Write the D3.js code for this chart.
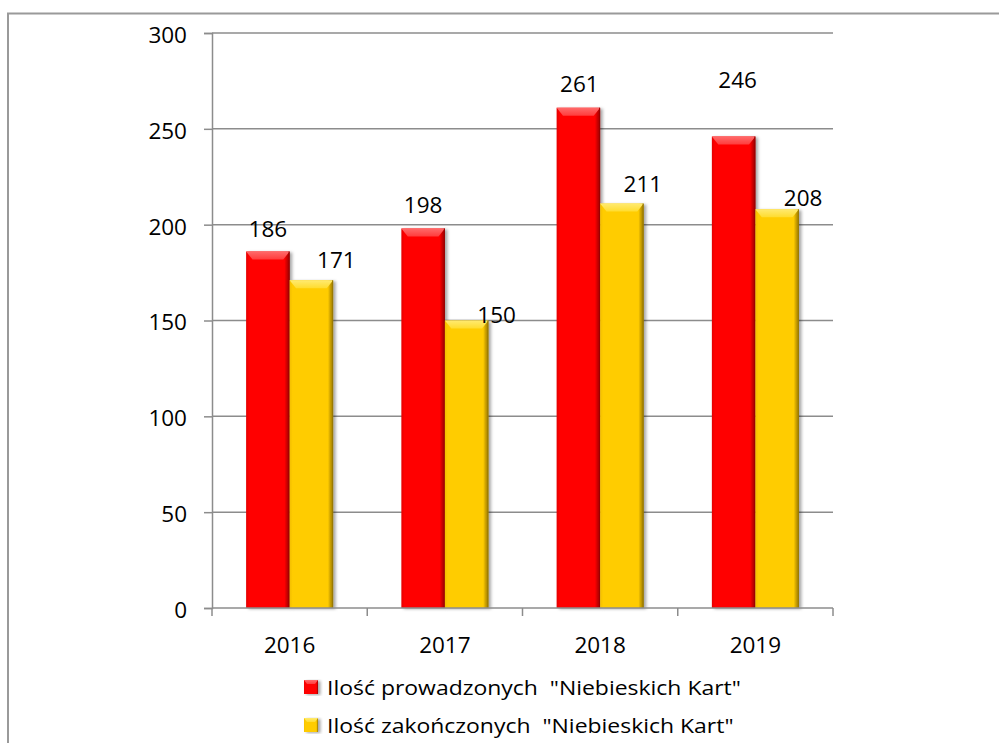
<!DOCTYPE html>
<html>
<head>
<meta charset="utf-8">
<script src="https://cdn.jsdelivr.net/npm/d3@7"></script>
<style>
  html, body { margin: 0; padding: 0; background: #fff; }
  svg { display: block; }
</style>
</head>
<body>
<svg id="chart" width="999" height="743"></svg>
<script>
// ---- data ----
const years = ["2016", "2017", "2018", "2019"];
const seriesNames = ['Ilość prowadzonych  "Niebieskich Kart"', 'Ilość zakończonych  "Niebieskich Kart"'];
const prowadzone = [186, 198, 261, 246];
const zakonczone = [171, 150, 211, 208];
const yTicks = [0, 50, 100, 150, 200, 250, 300];

// label nudges (layout only): [dx, dy] relative to bar centre / top
const labelNudgeRed = [[0, -15], [0, -16], [1, -16], [4, -49]];
const labelNudgeYellow = [[25, -12], [30, 2], [21, -12], [26, -3]];

const svg = d3.select("#chart");
const W = 999, H = 743;
const plot = { left: 212, right: 833, top: 33, bottom: 608 };

// outer frame
svg.append("path")
  .attr("d", `M8,${H + 5} L8,13.5 L${W + 5},13.5`)
  .attr("fill", "none").attr("stroke", "#9a9a9a").attr("stroke-width", 2);

const y = d3.scaleLinear().domain([0, 300]).range([plot.bottom, plot.top]);
const x = d3.scaleBand().domain(years).range([plot.left, plot.right]).padding(0);
const keys = ["r", "y"];
const xs = d3.scaleBand().domain(keys).range([0, x.bandwidth()]).paddingInner(0).paddingOuter(0.784);

const defs = svg.append("defs");
const shadow = defs.append("filter").attr("id", "shadow")
  .attr("x", "-20%").attr("y", "-5%").attr("width", "150%").attr("height", "115%");
shadow.append("feDropShadow").attr("dx", 2.5).attr("dy", 1).attr("stdDeviation", 1.8)
  .attr("flood-color", "#000").attr("flood-opacity", 0.35);

const palette = {
  r: { base: "#ff0000", top: "#ff3c3c", topHi: "#ff6a6a", side: "#c80000", left: "#e40000", dark: "#9a0000" },
  y: { base: "#ffcc00", top: "#ffdc2e", topHi: "#ffea70", side: "#c79d00", left: "#f2be00", dark: "#9a7a00" }
};
keys.forEach(k => {
  const p = palette[k];
  const g = defs.append("linearGradient").attr("id", "grad-" + k).attr("x1", 0).attr("x2", 1).attr("y1", 0).attr("y2", 0);
  g.append("stop").attr("offset", 0).attr("stop-color", p.left);
  g.append("stop").attr("offset", 0.07).attr("stop-color", p.base);
  g.append("stop").attr("offset", 0.88).attr("stop-color", p.base);
  g.append("stop").attr("offset", 0.94).attr("stop-color", p.side);
  g.append("stop").attr("offset", 1).attr("stop-color", p.dark);
  const t = defs.append("linearGradient").attr("id", "top-" + k).attr("x1", 0).attr("x2", 0).attr("y1", 0).attr("y2", 1);
  t.append("stop").attr("offset", 0).attr("stop-color", p.topHi);
  t.append("stop").attr("offset", 1).attr("stop-color", p.top);
});

// gridlines
svg.append("g").selectAll("line").data(yTicks.filter(d => d > 0)).join("line")
  .attr("x1", plot.left).attr("x2", plot.right)
  .attr("y1", d => y(d)).attr("y2", d => y(d))
  .attr("stroke", "#8c8c8c").attr("stroke-width", 1.5);

// bars
const rows = years.map((yr, i) => ({ year: yr, i, vals: { r: prowadzone[i], y: zakonczone[i] } }));
const bevel = 8;
function drawBar(sel, k) {
  sel.each(function(d) {
    const g = d3.select(this);
    const v = d.vals[k];
    const x0 = x(d.year) + xs(k), w = xs.bandwidth();
    const y0 = y(v), h = y(0) - y(v);
    const p = palette[k];
    g.append("rect").attr("x", x0).attr("y", y0).attr("width", w).attr("height", h)
      .attr("fill", `url(#grad-${k})`).attr("filter", "url(#shadow)");
    const b = Math.min(bevel, h / 2);
    g.append("path")
      .attr("d", `M${x0},${y0} L${x0 + w},${y0} L${x0 + w - b * 0.8},${y0 + b} L${x0 + b * 0.8},${y0 + b} Z`)
      .attr("fill", `url(#top-${k})`);
    g.append("line").attr("x1", x0 + w - 0.5).attr("x2", x0 + w - 0.5).attr("y1", y0).attr("y2", y0 + h)
      .attr("stroke", p.dark).attr("stroke-width", 1);
  });
}
const groups = svg.append("g").selectAll("g").data(rows).join("g");
groups.append("g").call(drawBar, "r");
groups.append("g").call(drawBar, "y");

// axes
const numFont = "Open Sans";
const yAxis = d3.axisLeft(y).tickValues(yTicks).tickSize(8).tickPadding(17).tickFormat(d3.format("d"));
const ya = svg.append("g").attr("transform", `translate(${plot.left},0)`).call(yAxis);
ya.select(".domain").attr("stroke", "#8c8c8c").attr("stroke-width", 1.5);
ya.selectAll(".tick line").attr("stroke", "#8c8c8c").attr("stroke-width", 1.5);
ya.selectAll(".tick text").attr("font-family", numFont).attr("font-size", 22.5).attr("fill", "#000").attr("dy", "0.42em");

const xa = svg.append("g").attr("transform", `translate(0,${plot.bottom})`)
  .call(d3.axisBottom(x).tickSize(0).tickPadding(29));
xa.select(".domain").remove();
xa.selectAll(".tick text").attr("font-family", numFont).attr("font-size", 22.5).attr("fill", "#000");
svg.append("line").attr("x1", plot.left).attr("x2", plot.right).attr("y1", plot.bottom).attr("y2", plot.bottom)
  .attr("stroke", "#8c8c8c").attr("stroke-width", 1.5);
const bounds = years.map(d => x(d)).concat([x(years[years.length - 1]) + x.bandwidth()]);
svg.append("g").selectAll("line").data(bounds).join("line")
  .attr("x1", d => d).attr("x2", d => d).attr("y1", plot.bottom).attr("y2", plot.bottom + 8)
  .attr("stroke", "#8c8c8c").attr("stroke-width", 1.5);

// value labels
const lab = svg.append("g").attr("font-family", numFont).attr("font-size", 22.5).attr("fill", "#000").attr("text-anchor", "middle");
rows.forEach(d => {
  [["r", labelNudgeRed], ["y", labelNudgeYellow]].forEach(([k, nudge]) => {
    const v = d.vals[k];
    lab.append("text")
      .attr("x", x(d.year) + xs(k) + xs.bandwidth() / 2 + nudge[d.i][0])
      .attr("y", y(v) + nudge[d.i][1])
      .text(v);
  });
});

// legend
const leg = svg.append("g");
seriesNames.forEach((name, i) => {
  const k = keys[i];
  const ly = 695 + i * 38;
  const gg = leg.append("g");
  gg.append("rect").attr("x", 304).attr("y", ly - 15).attr("width", 14).attr("height", 14)
    .attr("fill", `url(#grad-${k})`).attr("filter", "url(#shadow)");
  gg.append("path").attr("d", `M304,${ly - 15} L318,${ly - 15} L315,${ly - 11} L307,${ly - 11} Z`).attr("fill", `url(#top-${k})`);
  gg.append("text").attr("transform", `translate(327,${ly}) scale(1.12,1)`)
    .attr("font-family", "Open Sans").attr("font-size", 20.5).attr("fill", "#000")
    .attr("xml:space", "preserve").style("white-space", "pre")
    .text(name);
});
</script>
</body>
</html>
